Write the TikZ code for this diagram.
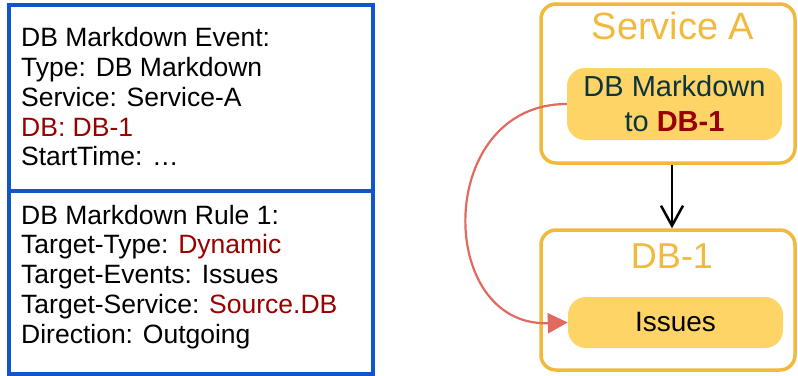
\documentclass[tikz,border=0pt]{standalone}
\usepackage{xcolor}
\usepackage{fontspec}
\setmainfont{Liberation Sans}
\usepackage{tikz}
\usetikzlibrary{arrows.meta, positioning}

\definecolor{panelblue}{HTML}{1155CC}
\definecolor{berry}{HTML}{990000}
\definecolor{amber}{HTML}{F1BA3C}
\definecolor{amberfill}{HTML}{FFD466}
\definecolor{deepteal}{HTML}{0C343D}
\definecolor{salmon}{HTML}{E06A5E}

\begin{document}
\begin{tikzpicture}[x=1pt, y=-1pt]
    % Styles
    \tikzstyle{panel} = [rectangle, draw=panelblue, line width=4pt, minimum width=364pt, inner sep=0pt, anchor=north west]
    \tikzstyle{paneltext} = [align=left, anchor=base west, inner sep=0pt, font=\fontsize{26.5}{29.7}\selectfont]
    \tikzstyle{group} = [rectangle, rounded corners=15pt, draw=amber, line width=3.5pt, minimum width=254pt, inner sep=0pt]
    \tikzstyle{grouplabel} = [anchor=base, inner sep=0pt, text=amber]
    \tikzstyle{item} = [rectangle, rounded corners=18pt, fill=amberfill, minimum width=215pt, inner sep=0pt, align=center]
    \tikzstyle{arrow} = [line width=2.5pt, -{Straight Barb[length=20pt, width=22pt, line join=miter]}]
    \tikzstyle{flow} = [line width=2.2pt, draw=salmon, -{Triangle[length=20pt, width=20pt]}]

    \useasboundingbox (0,0) rectangle (798,375);

    % Left panels
    \node (eventbox) [panel, minimum height=186pt] at (7,3) {};
    \node (rulebox) [panel, minimum height=183pt] at (7,189) {};
    % base of a multi-line node is its last line
    \node (eventtext) [paneltext] at (21,165.7) {DB Markdown Event:\\
        Type: DB Markdown\\
        Service: Service-A\\
        \textcolor{berry}{DB: DB-1}\\
        StartTime: \dots};
    \node (ruletext) [paneltext] at (21,343) {DB Markdown Rule 1:\\
        Target-Type: \textcolor{berry}{Dynamic}\\
        Target-Events: Issues\\
        Target-Service: \textcolor{berry}{Source.DB}\\
        Direction: Outgoing};

    % Right side
    \node (servicea) [group, minimum height=159pt] at (668,83.5) {};
    \node (servicelabel) [grouplabel, font=\fontsize{38}{38}\selectfont] at (673,39) {Service A};
    \node (markdown) [item, minimum height=72pt, text=deepteal, font=\fontsize{29}{35}\selectfont] at (674.5,104) {DB Markdown\\ to \textbf{\textcolor{berry}{DB-1}}};

    \node (dbone) [group, minimum height=140pt] at (668,300) {};
    \node (dblabel) [grouplabel, font=\fontsize{36}{36}\selectfont] at (672,268) {DB-1};
    \node (issues) [item, minimum height=51pt, font=\fontsize{28}{28}\selectfont] at (675.5,322.5) {Issues};

    % Arrows
    \draw [arrow] ([xshift=4pt]servicea.south) -- ([xshift=4pt]dbone.north);
    \draw [flow] (markdown.west) to[out=180, in=182, looseness=1.55] (issues.west);
\end{tikzpicture}
\end{document}
